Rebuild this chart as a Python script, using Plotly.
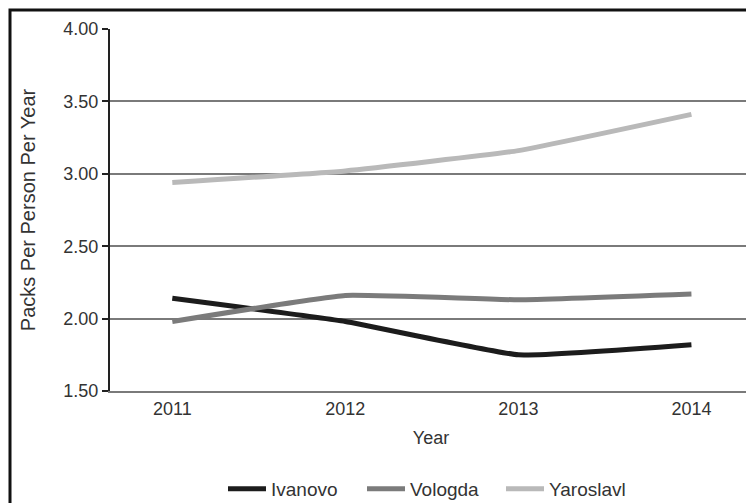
import plotly.graph_objects as go

years = [2011, 2012, 2013, 2014]
ivanovo = [2.14, 1.98, 1.75, 1.82]
vologda = [1.98, 2.16, 2.13, 2.17]
yaroslavl = [2.94, 3.02, 3.16, 3.41]
y_ticks = [1.5, 2.0, 2.5, 3.0, 3.5, 4.0]
y_labels = ["1.50", "2.00", "2.50", "3.00", "3.50", "4.00"]

series = [("Ivanovo", ivanovo, "#1c1c1c"),
          ("Vologda", vologda, "#7b7b7b"),
          ("Yaroslavl", yaroslavl, "#b9b9b9")]

fig = go.Figure()
for name, vals, col in series:
    fig.add_trace(go.Scatter(x=years, y=vals, name=name, mode="lines",
                             line=dict(color=col, width=5, shape="spline", smoothing=0.35)))

OFF = 8  # page body margin
W, H = 754, 503
L, T = 110 - OFF, 29 - OFF
R = W - (752 - OFF)
B = H - (391 - OFF)
pw, ph = W - L - R, H - T - B

TXT = "#333333"
FONT = "Liberation Sans, Arial, sans-serif"

fig.update_layout(
    width=W, height=H,
    margin=dict(l=L, r=R, t=T, b=B, autoexpand=False),
    paper_bgcolor="white", plot_bgcolor="white",
    font=dict(family=FONT, size=18, color=TXT),
    showlegend=True,
    legend=dict(orientation="h", x=(223 - OFF - L) / pw, xanchor="left",
                y=-(489 - 391) / ph, yanchor="middle",
                font=dict(family=FONT, size=19, color=TXT),
                itemwidth=38, entrywidth=86, tracegroupgap=0),
    xaxis=dict(range=[2010.64, 2014.35], tickvals=years, ticktext=[str(y) for y in years],
               tickfont=dict(family=FONT, size=18, color=TXT), ticklabelstandoff=1,
               showgrid=False, zeroline=False, showline=True, linecolor="#7a7a7a",
               linewidth=1.5, ticks="",
               title=dict(text="Year", standoff=13, font=dict(family=FONT, size=18, color=TXT))),
    yaxis=dict(range=[1.5, 4.0], tickvals=y_ticks, ticktext=y_labels,
               tickfont=dict(family=FONT, size=18, color=TXT),
               showgrid=True, gridcolor="#7a7a7a", gridwidth=1.5,
               showline=True, linecolor="#222222", linewidth=2,
               ticks="outside", ticklen=6, tickcolor="#222222", tickwidth=2,
               zeroline=False,
               title=dict(text="Packs Per Person Per Year", standoff=22,
                          font=dict(family=FONT, size=20, color=TXT))),
)

# outer frame (extends past right and bottom edges)
fig.add_shape(type="rect", xref="paper", yref="paper",
              x0=(10 - 110) / pw, x1=(W + 40 - L) / pw,
              y0=-(H + 40 - (391 - OFF)) / ph, y1=1 + (29 - 10) / ph,
              line=dict(color="#111111", width=3), fillcolor="rgba(0,0,0,0)", layer="above")

fig.write_html("out.html")
